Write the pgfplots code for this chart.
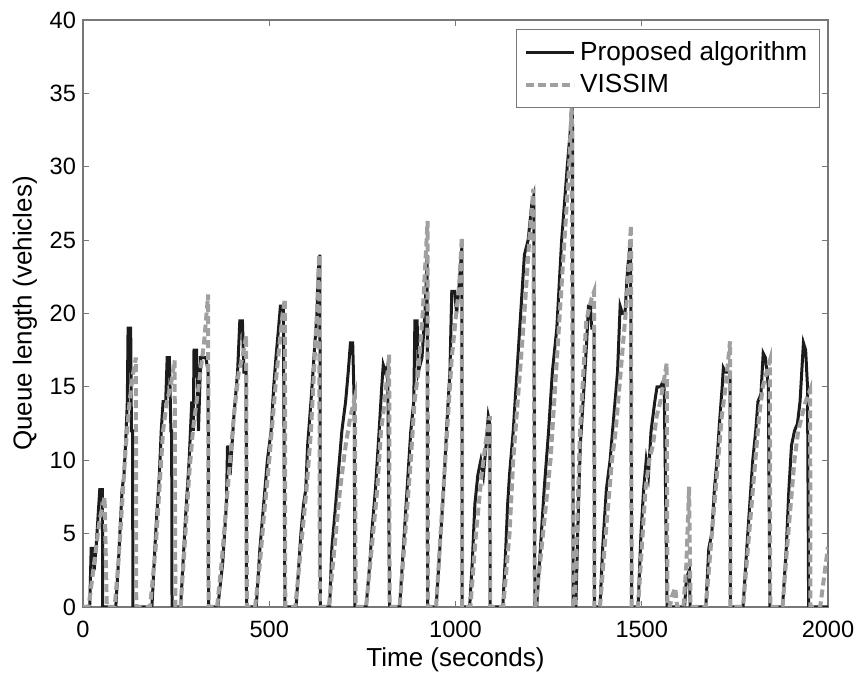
\documentclass[border=0pt]{standalone}
\usepackage{fontspec}
\setmainfont{Liberation Sans}
\usepackage{pgfplots}
\pgfplotsset{compat=1.18}
\definecolor{vissim}{RGB}{160,160,160}
\definecolor{propalg}{RGB}{28,28,28}
\definecolor{axcol}{RGB}{120,120,120}
\begin{document}
\begin{tikzpicture}
\begin{axis}[
    scale only axis,
    width=372.5pt, height=293.5pt,
    xmin=0, xmax=2000, ymin=0, ymax=40,
    xtick={0,500,...,2000},
    ytick={0,5,...,40},
    tick align=inside,
    major tick length=3pt,
    axis line style={axcol, line width=0.6pt},
    every tick/.style={axcol, line width=0.6pt},
    /pgf/number format/assume math mode=true,
    /pgf/number format/1000 sep={},
    tick label style={font=\fontsize{11.8}{13}\selectfont, black},
    xticklabel style={yshift=-3.5pt},
    label style={font=\fontsize{13}{15}\selectfont},
    xlabel={Time (seconds)},
    ylabel={Queue length (vehicles)},
    xlabel style={at={(axis description cs:0.5,-0.09)}, anchor=center},
    ylabel style={at={(axis description cs:-0.078,0.5)}, anchor=center},
    legend style={at={(axis description cs:0.989,0.985)}, anchor=north east,
        draw=axcol, line width=0.5pt, font=\fontsize{13.1}{15}\selectfont,
        inner xsep=4pt, inner ysep=4pt, row sep=1.5pt},
    legend cell align=left,
    legend image code/.code={\draw[#1] (0pt,0pt) -- (24pt,0pt);},
]
\addplot[propalg, line width=1.5pt] coordinates {
(0,0) (18,0) (22,4) (28,4) (30,2.5) (35,4) (40,6) (45,8) (52,8) (53,0)
(88,0) (95,3) (105,8) (110,9) (116,12) (119,14) (121,19) (128,19) (130,12) (133,12) (134,0)
(185,0) (195,5) (205,9) (210,12) (215,14) (222,14) (226,17) (232,17) (236,12) (238,12) (239,0)
(262,0) (275,6) (285,10) (292,14) (296,12) (298,17.5) (305,17.5) (310,12) (316,17) (330,17) (336,16) (337,0)
(362,0) (375,3) (385,7) (388,11) (395,9) (405,13) (415,16) (421,19.5) (428,19.5) (432,16) (438,16) (439,0)
(465,0) (475,4) (485,7) (495,10) (505,12) (512,15) (518,17) (525,19) (530,20.5) (538,20.5) (542,0)
(572,0) (585,5) (592,7) (598,8) (603,11) (612,14) (620,17) (628,20) (632,23) (636,24) (637,0)
(662,0) (668,4) (675,6) (685,9) (695,12) (705,14) (712,16) (718,18) (724,18) (728,14) (730,0)
(760,0) (770,3) (775,5) (785,8) (795,12) (802,15) (806,16.5) (812,16) (818,16.5) (823,0)
(850,0) (860,4) (870,8) (880,12) (888,14) (891,19.5) (897,19.5) (900,16) (910,17) (918,20) (924,24) (925,0)
(948,0) (958,4) (968,8) (978,13) (985,16) (990,21.5) (998,21.5) (1003,20) (1010,22) (1017,24.5) (1018,0)
(1038,0) (1045,3) (1052,7) (1060,9) (1068,10) (1075,9) (1082,11) (1088,13) (1092,12.5) (1093,0)
(1127,0) (1135,4) (1140,7) (1145,9) (1155,12) (1165,16) (1175,20) (1185,24) (1195,25) (1205,27.5) (1210,28) (1213,0)
(1218,0) (1228,4) (1238,8) (1250,12) (1260,16) (1272,19) (1285,25) (1300,30) (1310,33) (1314,34.5) (1316,0) (1322,0) (1322,1)
(1323,0) (1328,5) (1335,11) (1345,15) (1352,18) (1357,20.5) (1362,20.5) (1366,19) (1372,19) (1373,0)
(1388,0) (1395,4) (1405,8) (1415,10) (1425,13) (1435,16) (1442,20.5) (1448,20) (1455,20) (1462,23) (1470,25) (1473,0)
(1490,0) (1498,5) (1505,8) (1512,10) (1518,9) (1525,12) (1535,14) (1541,15) (1550,15) (1560,15.5) (1568,0)
(1615,0) (1620,2) (1628,2.5) (1630,0)
(1672,0) (1680,4) (1688,5) (1695,8) (1702,10) (1710,13) (1716,15) (1719,16.3) (1725,16) (1737,16) (1738,0)
(1772,0) (1782,4) (1790,7) (1798,10) (1806,12) (1812,14) (1820,14.5) (1826,17.3) (1832,17) (1840,15) (1844,0)
(1878,0) (1888,4) (1895,8) (1902,11) (1910,12) (1918,12.5) (1925,14) (1934,18) (1940,17.5) (1945,15) (1948,0)
(2000,0)
};
\addlegendentry{Proposed algorithm}
\addplot[vissim, line width=2pt, dash pattern=on 4pt off 2pt] coordinates {
(0,0) (15,0) (25,2) (35,4) (45,6) (58,7.5) (64,0)
(85,0) (95,3) (105,7) (115,11) (125,14) (135,16) (142,17) (143,0)
(180,0) (195,4) (205,8) (215,12) (225,14) (235,15) (246,16.8) (248,0)
(262,0) (275,5) (285,9) (295,12) (305,14) (315,16) (325,18) (336,21.3) (337,0)
(360,0) (372,3) (385,7) (395,10) (405,13) (418,16) (428,17) (438,18.5) (440,0)
(462,0) (475,3) (485,6) (500,10) (510,13) (520,16) (528,18) (536,20) (542,21) (543,0)
(570,0) (585,4) (600,8) (612,12) (620,16) (628,20) (634,24) (636,0)
(660,0) (675,4) (690,8) (705,11) (718,13) (730,14.3) (732,0)
(760,0) (775,4) (790,8) (800,12) (810,14) (822,17.2) (823,0)
(850,0) (865,5) (880,10) (890,14) (900,16) (912,20) (925,26.3) (926,0)
(948,0) (960,5) (970,9) (980,13) (990,17) (1000,19.5) (1010,22) (1017,25.2) (1018,0)
(1040,0) (1055,5) (1070,9) (1080,11) (1092,13) (1093,0)
(1128,0) (1145,5) (1155,10) (1170,15) (1185,20) (1198,25) (1209,28.5) (1213,0)
(1215,0) (1235,5) (1255,10) (1270,16) (1285,22) (1295,26) (1305,30) (1312,34.5) (1316,0)
(1320,0) (1334,11.8) (1351,19.5) (1365,21) (1372,21.5) (1373,0)
(1388,0) (1400,4) (1410,7) (1420,10) (1430,12) (1440,15) (1450,18) (1460,21) (1471,26) (1473,0)
(1490,0) (1500,4) (1510,8) (1520,10) (1530,11) (1540,13) (1550,14) (1567,16.6) (1569,0)
(1575,0) (1582,0.8) (1590,1.3) (1595,0) (1612,0) (1620,3) (1627,8.2) (1631,0)
(1672,0) (1685,4) (1695,7) (1705,10) (1715,13) (1725,15) (1737,18.1) (1738,0)
(1772,0) (1785,4) (1795,7) (1805,10) (1815,13) (1825,15) (1835,16) (1844,16.8) (1845,0)
(1878,0) (1890,4) (1900,7) (1910,10) (1920,12) (1930,13) (1940,14) (1952,14.8) (1953,0)
(1979,0) (2000,4.1)
};
\addlegendentry{VISSIM}
\end{axis}
\pgfresetboundingbox
\path (-41.5pt,-36pt) rectangle (389.5pt,303.5pt);
\end{tikzpicture}
\end{document}
